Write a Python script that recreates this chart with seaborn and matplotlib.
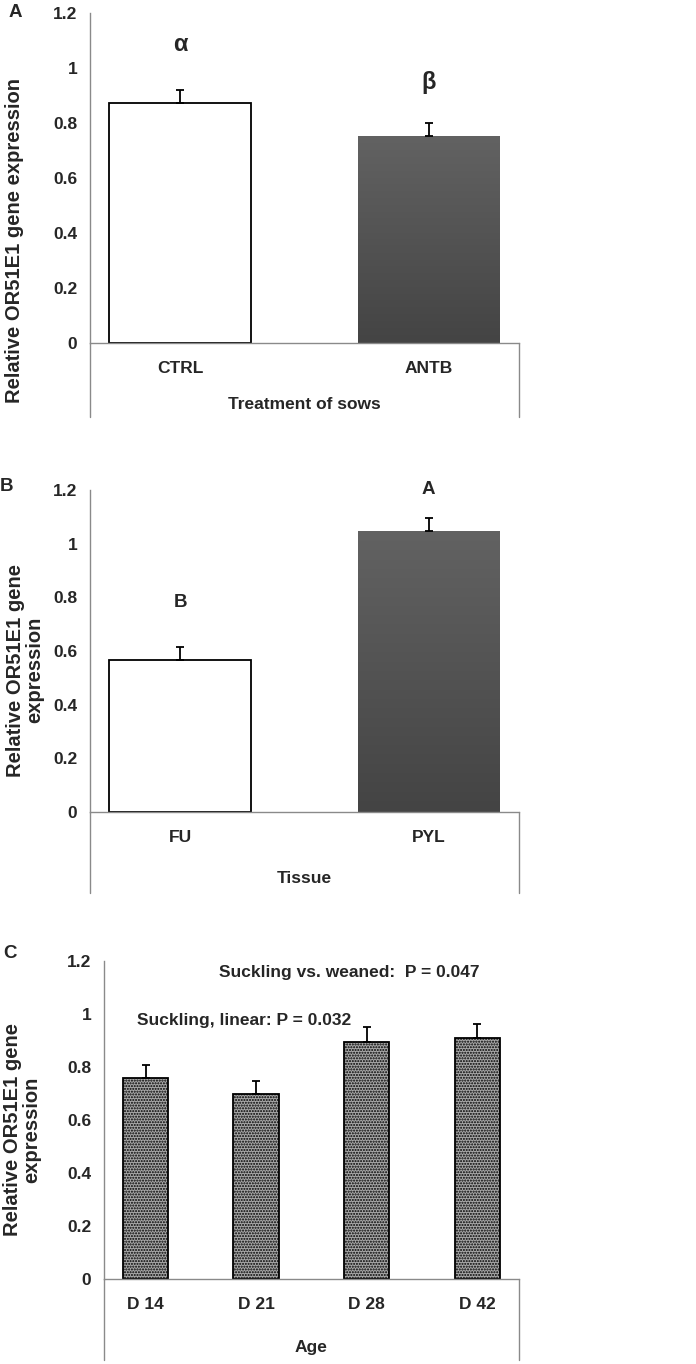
import numpy as np
import pandas as pd
import matplotlib
matplotlib.use("Agg")
import matplotlib.pyplot as plt
import seaborn as sns
from matplotlib.colors import LinearSegmentedColormap

# panel A - treatment of sows
treat = ["CTRL", "ANTB"]
treat_mean = [0.873, 0.753]
treat_se = [0.047, 0.047]
treat_sig = ["α", "β"]

# panel B - tissue
tissue = ["FU", "PYL"]
tissue_mean = [0.567, 1.048]
tissue_se = [0.048, 0.049]
tissue_sig = ["B", "A"]

# panel C - age
age = ["D 14", "D 21", "D 28", "D 42"]
age_mean = [0.758, 0.698, 0.894, 0.909]
age_se = [0.049, 0.049, 0.057, 0.053]

yticks = [0, 0.2, 0.4, 0.6, 0.8, 1, 1.2]
ytick_labels = ["0", "0.2", "0.4", "0.6", "0.8", "1", "1.2"]

sns.set_style("white")
plt.rcParams["font.family"] = ["Liberation Sans", "DejaVu Sans"]
plt.rcParams["font.weight"] = "bold"
plt.rcParams["hatch.linewidth"] = 1.0

fig = plt.figure(figsize=(6.96, 13.64), dpi=100)
axA = fig.add_axes([0.1293, 0.7485, 0.6164, 0.2420])
axB = fig.add_axes([0.1293, 0.4047, 0.6164, 0.2361])
axC = fig.add_axes([0.1494, 0.0623, 0.5963, 0.2331])

gray = "#8a8a8a"
fs = 12.5
fs_lab = 14.5


def style(ax, ext):
    ax.set_ylim(0, 1.2)
    ax.set_yticks(yticks)
    ax.set_yticklabels(ytick_labels, fontsize=fs, fontweight="bold")
    ax.tick_params(axis="y", length=0, pad=9)
    ax.tick_params(axis="x", length=0, pad=13, labelsize=fs)
    for t in ax.get_xticklabels():
        t.set_fontweight("bold")
    for s in ["top", "right"]:
        ax.spines[s].set_visible(False)
    for s in ["left", "bottom"]:
        ax.spines[s].set_color(gray)
        ax.spines[s].set_linewidth(1.0)
    # Excel-style category box lines below the axis
    ax.plot([0, 0], [0, -ext], transform=ax.transAxes, color=gray, lw=1.0, clip_on=False)
    ax.plot([1, 1], [0, -ext], transform=ax.transAxes, color=gray, lw=1.0, clip_on=False)


def grad_fill(ax, patch):
    cmap = LinearSegmentedColormap.from_list("g", ["#444444", "#626262"])
    x0, y0 = patch.get_x(), patch.get_y()
    w, h = patch.get_width(), patch.get_height()
    xl, yl = ax.get_xlim(), ax.get_ylim()
    im = ax.imshow(np.linspace(0, 1, 100).reshape(-1, 1), extent=[x0, x0 + w, y0, y0 + h],
                   origin="lower", cmap=cmap, aspect="auto", zorder=patch.get_zorder())
    im.set_clip_path(patch)
    patch.set_facecolor("none")
    ax.set_xlim(xl)
    ax.set_ylim(yl)


def errs(ax, means, ses):
    ax.errorbar(range(len(means)), means, yerr=[np.zeros(len(ses)), ses], fmt="none",
                ecolor="black", elinewidth=1.3, capsize=2.6, capthick=1.3, zorder=5)


def ylab(ax, text, x, y):
    ax.set_ylabel(text, fontsize=fs_lab, fontweight="bold", linespacing=1.0, va="center")
    ax.yaxis.set_label_coords(x, y)


def xlab(ax, text, y):
    ax.set_xlabel(text, fontsize=fs, fontweight="bold", va="center")
    ax.xaxis.set_label_coords(0.5, y)


# ---- A
dfA = pd.DataFrame({"group": treat, "value": treat_mean})
sns.barplot(data=dfA, x="group", y="value", hue="group", palette=["white", "#555555"],
            width=0.57, legend=False, ax=axA, saturation=1)
axA.patches[0].set_edgecolor("black")
axA.patches[0].set_linewidth(1.3)
axA.patches[1].set_edgecolor("none")
errs(axA, treat_mean, treat_se)
style(axA, 0.224)
grad_fill(axA, axA.patches[1])
axA.text(0, 1.084, treat_sig[0], ha="center", va="center", fontsize=17, fontweight="bold")
axA.text(1, 0.949, treat_sig[1], ha="center", va="center", fontsize=17, fontweight="bold")
ylab(axA, "Relative OR51E1 gene expression", -0.175, 0.31)
xlab(axA, "Treatment of sows", -0.185)

# ---- B
dfB = pd.DataFrame({"group": tissue, "value": tissue_mean})
sns.barplot(data=dfB, x="group", y="value", hue="group", palette=["white", "#555555"],
            width=0.57, legend=False, ax=axB, saturation=1)
axB.patches[0].set_edgecolor("black")
axB.patches[0].set_linewidth(1.3)
axB.patches[1].set_edgecolor("none")
errs(axB, tissue_mean, tissue_se)
style(axB, 0.252)
grad_fill(axB, axB.patches[1])
axB.text(0, 0.78, tissue_sig[0], ha="center", va="center", fontsize=13.5, fontweight="bold")
axB.text(1, 1.20, tissue_sig[1], ha="center", va="center", fontsize=13.5, fontweight="bold")
ylab(axB, "Relative OR51E1 gene\nexpression", -0.152, 0.44)
xlab(axB, "Tissue", -0.205)

# ---- C
dfC = pd.DataFrame({"group": age, "value": age_mean})
sns.barplot(data=dfC, x="group", y="value", color="#a8a8a8", width=0.41, ax=axC,
            saturation=1, edgecolor="black", linewidth=1.3, hatch="......")
errs(axC, age_mean, age_se)
style(axC, 0.255)
axC.text(1.84, 1.155, "Suckling vs. weaned:  P = 0.047", ha="center", va="center",
         fontsize=fs, fontweight="bold")
axC.text(0.888, 0.977, "Suckling, linear: P = 0.032", ha="center", va="center",
         fontsize=fs, fontweight="bold")
ylab(axC, "Relative OR51E1 gene\nexpression", -0.198, 0.47)
xlab(axC, "Age", -0.214)

# panel letters
fig.text(0.0216, 0.9905, "A", ha="center", va="center", fontsize=13.5, fontweight="bold")
fig.text(0.0100, 0.6430, "B", ha="center", va="center", fontsize=13.5, fontweight="bold")
fig.text(0.0144, 0.3013, "C", ha="center", va="center", fontsize=13.5, fontweight="bold")

fig.savefig("out.png", dpi=100, facecolor="white")
